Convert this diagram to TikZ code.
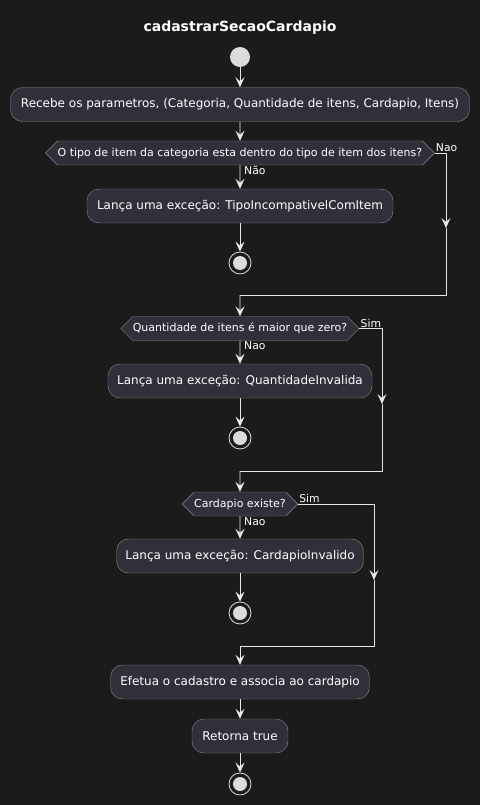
\documentclass[tikz,border=0pt]{standalone}
\usepackage{fontspec}
\setmainfont{DejaVu Sans}
\usetikzlibrary{arrows.meta}
\usetikzlibrary{shapes.symbols}

\definecolor{bgdark}{HTML}{1B1B1B}
\definecolor{boxfill}{HTML}{30303A}
\definecolor{boxline}{HTML}{8A8A8A}
\definecolor{flowline}{HTML}{E8E8E8}
\definecolor{dotgray}{HTML}{DCDCDC}

\begin{document}
\begin{tikzpicture}[ x=1pt, y=-1pt,
	action/.style={ draw=boxline, fill=boxfill, rounded corners=12pt, minimum height=34pt, inner sep=0pt, text=white, font=\fontsize{12}{14}\selectfont },
	test/.style={ shape=signal, signal to=west and east, signal pointer angle=90, draw=boxline, fill=boxfill, minimum height=24pt, inner ysep=0pt, inner xsep=0pt, text=white, font=\fontsize{11}{13}\selectfont },
	startdot/.style={ circle, fill=dotgray, minimum size=20pt, inner sep=0pt },
	stopdot/.style={ circle, draw=dotgray, line width=0.8pt, minimum size=22pt, inner sep=0pt, path picture={ \fill[ dotgray ] (path picture bounding box.center) circle (7pt); } },
	flow/.style={ draw=flowline, line width=0.9pt, -{Stealth[length=10pt, width=9pt, inset=4pt]} },
	wire/.style={ draw=flowline, line width=0.9pt },
	branch/.style={ text=white, font=\fontsize{10.8}{12}\selectfont, inner sep=1pt }
]

	\def\midx{240}

	\fill[ bgdark ] (0, 0) rectangle (480, 805);
	\useasboundingbox (0, 0) rectangle (480, 805);

	\node[ text=white, font=\fontsize{14}{16}\selectfont\bfseries ] (title) at (\midx, 28) {cadastrarSecaoCardapio};

	\node[ startdot ] (start) at (\midx, 57) {};
	\node[ action, minimum width=459pt ] (recebe) at (\midx, 104.5) {Recebe os parametros, (Categoria, Quantidade de itens, Cardapio, Itens)};
	\node[ test, minimum width=389pt ] (tipo) at (\midx, 153) {O tipo de item da categoria esta dentro do tipo de item dos itens?};
	\node[ action, minimum width=306pt ] (erroTipo) at (\midx, 206) {Lança uma exceção: TipoIncompativelComItem};
	\node[ stopdot ] (fimTipo) at (\midx, 263) {};

	\node[ test, minimum width=237pt ] (qtd) at (\midx, 328.5) {Quantidade de itens é maior que zero?};
	\node[ action, minimum width=264pt ] (erroQtd) at (\midx, 381) {Lança uma exceção: QuantidadeInvalida};
	\node[ stopdot ] (fimQtd) at (\midx, 438) {};

	\node[ test, minimum width=115pt ] (existe) at (\midx, 504) {Cardapio existe?};
	\node[ action, minimum width=247pt ] (erroCard) at (\midx, 556) {Lança uma exceção: CardapioInvalido};
	\node[ stopdot ] (fimCard) at (\midx, 613) {};

	\node[ action, minimum width=259pt ] (efetua) at (\midx, 682) {Efetua o cadastro e associa ao cardapio};
	\node[ action, minimum width=96pt ] (retorna) at (\midx, 736) {Retorna true};
	\node[ stopdot ] (fim) at (\midx, 784) {};

	\coordinate (seta1) at (446, 228);
	\coordinate (junta1) at (\midx, 295);
	\coordinate (seta2) at (382, 404);
	\coordinate (junta2) at (\midx, 471);
	\coordinate (seta3) at (374, 580);
	\coordinate (junta3) at (\midx, 646);

	\draw[ flow ] (start) -- (recebe);
	\draw[ flow ] (recebe) -- (tipo);
	\draw[ flow ] (tipo) -- (erroTipo);
	\draw[ flow ] (erroTipo) -- (fimTipo);
	\draw[ flow ] (tipo.east) -| (seta1);
	\draw[ wire ] (seta1) |- (junta1);
	\draw[ flow ] (junta1) -- (qtd);

	\draw[ flow ] (qtd) -- (erroQtd);
	\draw[ flow ] (erroQtd) -- (fimQtd);
	\draw[ flow ] (qtd.east) -| (seta2);
	\draw[ wire ] (seta2) |- (junta2);
	\draw[ flow ] (junta2) -- (existe);

	\draw[ flow ] (existe) -- (erroCard);
	\draw[ flow ] (erroCard) -- (fimCard);
	\draw[ flow ] (existe.east) -| (seta3);
	\draw[ wire ] (seta3) |- (junta3);
	\draw[ flow ] (junta3) -- (efetua);

	\draw[ flow ] (efetua) -- (retorna);
	\draw[ flow ] (retorna) -- (fim);

	\node[ branch, anchor=south west ] (nao1) at (tipo.east) {Nao};
	\node[ branch, anchor=north west ] (nao2) at ([xshift=3pt]tipo.south) {Não};
	\node[ branch, anchor=south west ] (sim1) at (qtd.east) {Sim};
	\node[ branch, anchor=north west ] (nao3) at ([xshift=3pt]qtd.south) {Nao};
	\node[ branch, anchor=south west ] (sim2) at (existe.east) {Sim};
	\node[ branch, anchor=north west ] (nao4) at ([xshift=3pt]existe.south) {Nao};

\end{tikzpicture}
\end{document}
